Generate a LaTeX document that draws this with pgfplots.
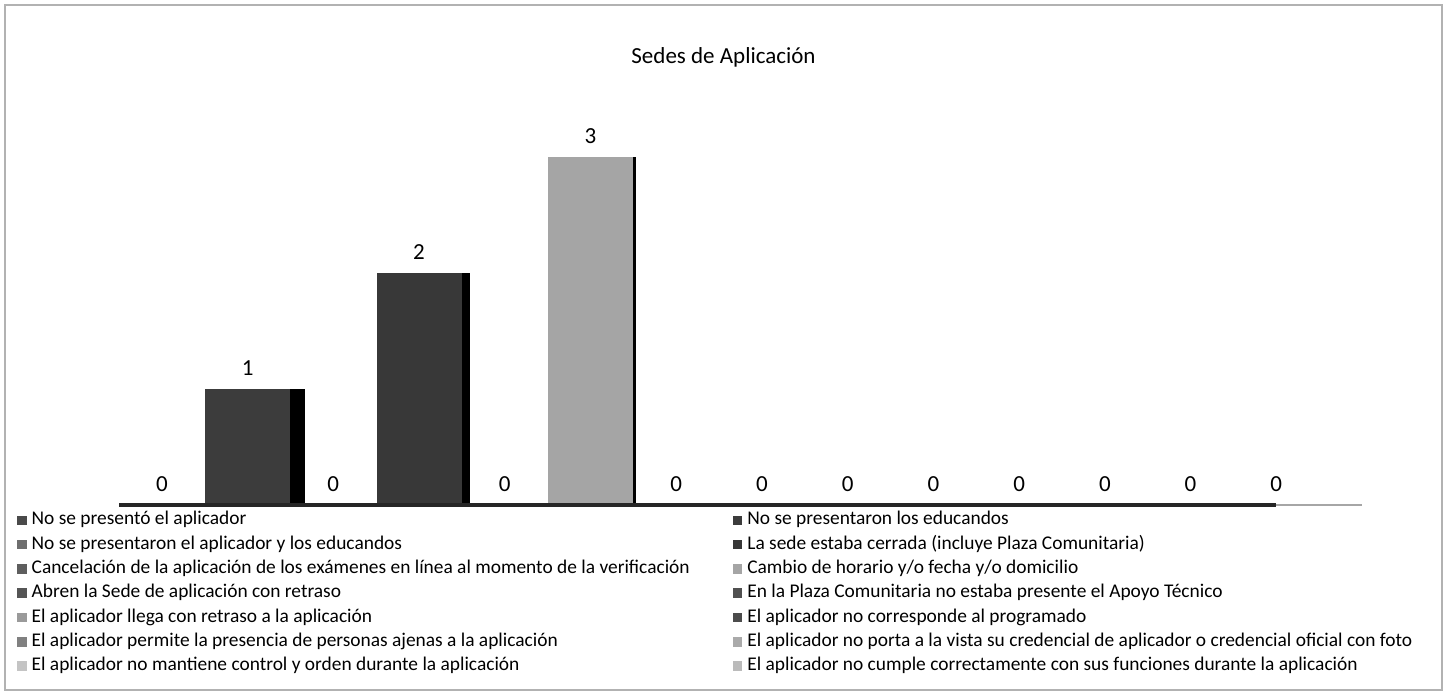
\documentclass[border=0pt]{standalone}
\usepackage{pgfplots}
\pgfplotsset{compat=1.18}
\usepackage{fontspec}
\setmainfont{Carlito}

\definecolor{c1}{HTML}{4A4A4A}
\definecolor{c2}{HTML}{3C3C3C}
\definecolor{c3}{HTML}{6E6E6E}
\definecolor{c4}{HTML}{383838}
\definecolor{c5}{HTML}{5E5E5E}
\definecolor{c6}{HTML}{A5A5A5}
\definecolor{c7}{HTML}{555555}
\definecolor{c8}{HTML}{505050}
\definecolor{c9}{HTML}{9A9A9A}
\definecolor{c10}{HTML}{4C4C4C}
\definecolor{c11}{HTML}{808080}
\definecolor{c12}{HTML}{AAAAAA}
\definecolor{c13}{HTML}{C4C4C4}
\definecolor{c14}{HTML}{BBBBBB}

\pgfplotsset{
  lab/.style={nodes near coords,
    every node near coord/.append style={font=\fontsize{11.5}{13}\selectfont, yshift=3pt}},
}

\begin{document}
\begin{tikzpicture}
\path[use as bounding box] (0,0) rectangle (723.5pt,347.5pt);
\draw[gray!60, line width=0.6pt] (2.5pt,2.5pt) rectangle (721pt,345pt);
\node[font=\fontsize{11.5}{13}\selectfont] at (361.75pt,319pt) {Sedes de Aplicación};

\begin{axis}[
    at={(59.5pt,95pt)}, anchor=south west,
    scale only axis, width=621.5pt, height=203pt,
    xmin=-0.5, xmax=14, ymin=0, ymax=3.5,
    hide axis, clip=false,
    /pgf/number format/assume math mode=true,
    ybar, bar width=42.5pt, bar shift=0pt,
    legend columns=2,
    legend image code/.code={\fill[#1] (0pt,-2.4pt) rectangle (4.8pt,2.4pt);},
    legend style={at={(-0.082,-0.017)}, anchor=north west,
        draw=none, fill=none, inner sep=0pt, outer sep=0pt,
        font=\fontsize{9.7}{11}\selectfont,
        cells={anchor=west},
        nodes={inner sep=0pt, text height=6.5pt, text depth=2pt},
        row sep=3.65pt,
        /tikz/every odd column/.append style={column sep=2.5pt},
        /tikz/every even column/.append style={column sep=21.5pt}},
]
% 3D sides of the visible bars
\addplot[fill=black, draw=none, bar width=7.5pt, bar shift=25pt, forget plot] coordinates {(1,1)};
\addplot[fill=black, draw=none, bar width=4pt, bar shift=23.25pt, forget plot] coordinates {(3,2)};
\addplot[fill=black, draw=none, bar width=1.5pt, bar shift=22pt, forget plot] coordinates {(5,3)};

\addplot[fill=c1, draw=none, lab] coordinates {(0,0)};
\addlegendentry{No se presentó el aplicador}
\addplot[fill=c2, draw=none, lab] coordinates {(1,1)};
\addlegendentry{No se presentaron los educandos}
\addplot[fill=c3, draw=none, lab] coordinates {(2,0)};
\addlegendentry{No se presentaron el aplicador y los educandos}
\addplot[fill=c4, draw=none, lab] coordinates {(3,2)};
\addlegendentry{La sede estaba cerrada (incluye Plaza Comunitaria)}
\addplot[fill=c5, draw=none, lab] coordinates {(4,0)};
\addlegendentry{Cancelación de la aplicación de los exámenes en línea al momento de la verificación}
\addplot[fill=c6, draw=none, lab] coordinates {(5,3)};
\addlegendentry{Cambio de horario y/o fecha y/o domicilio}
\addplot[fill=c7, draw=none, lab] coordinates {(6,0)};
\addlegendentry{Abren la Sede de aplicación con retraso}
\addplot[fill=c8, draw=none, lab] coordinates {(7,0)};
\addlegendentry{En la Plaza Comunitaria no estaba presente el Apoyo Técnico}
\addplot[fill=c9, draw=none, lab] coordinates {(8,0)};
\addlegendentry{El aplicador llega con retraso a la aplicación}
\addplot[fill=c10, draw=none, lab] coordinates {(9,0)};
\addlegendentry{El aplicador no corresponde al programado}
\addplot[fill=c11, draw=none, lab] coordinates {(10,0)};
\addlegendentry{El aplicador permite la presencia de personas ajenas a la aplicación}
\addplot[fill=c12, draw=none, lab] coordinates {(11,0)};
\addlegendentry{El aplicador no porta a la vista su credencial de aplicador o credencial oficial con foto}
\addplot[fill=c13, draw=none, lab] coordinates {(12,0)};
\addlegendentry{El aplicador no mantiene control y orden durante la aplicación}
\addplot[fill=c14, draw=none, lab] coordinates {(13,0)};
\addlegendentry{El aplicador no cumple correctamente con sus funciones durante la aplicación}

\draw[black!85, line width=1.6pt] (axis cs:-0.5,0) -- (axis cs:13,0);
\draw[gray!70, line width=1.2pt] (axis cs:13,0) -- (axis cs:14,0);
\end{axis}
\end{tikzpicture}
\end{document}
